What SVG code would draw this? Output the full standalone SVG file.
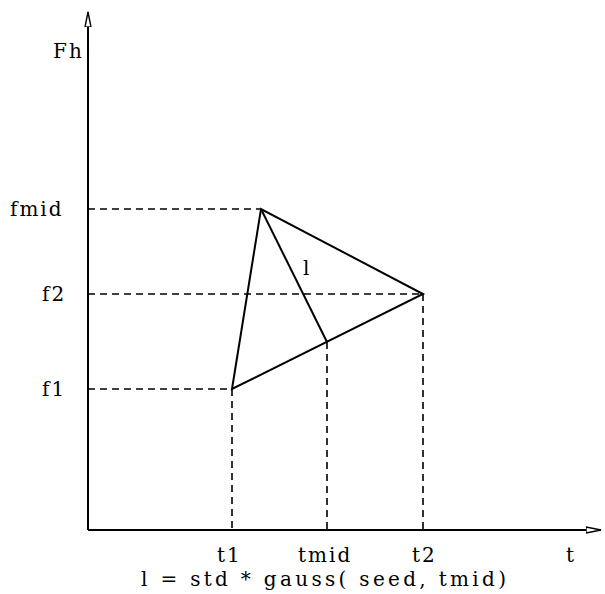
<svg xmlns="http://www.w3.org/2000/svg" width="605" height="594" viewBox="0 0 605 594">
<style>
.ax{stroke:#000;stroke-width:2;fill:none}
.ln{stroke:#000;stroke-width:2;fill:none}
.ds{stroke:#000;stroke-width:1.6;fill:none;stroke-dasharray:7,5}
text{font-family:"DejaVu Serif","Liberation Serif",serif;font-size:20px;letter-spacing:2px;font-variant-ligatures:none;fill:#000}
</style>
<defs>
<marker id="ah" markerWidth="16" markerHeight="8" refX="15" refY="4" orient="auto" markerUnits="userSpaceOnUse">
<path d="M0,1 L15,4 L0,7 Z" fill="#fff" stroke="#000" stroke-width="1.4"/>
</marker>
</defs>
<g id="connectors">
<line class="ax" x1="88" y1="530" x2="88" y2="12" marker-end="url(#ah)"/>
<line class="ax" x1="88" y1="530" x2="601" y2="530" marker-end="url(#ah)"/>
<line class="ds" x1="88" y1="209" x2="261" y2="209"/>
<line class="ds" x1="88" y1="294" x2="423" y2="294"/>
<line class="ds" x1="88" y1="389" x2="232" y2="389"/>
<line class="ds" x1="232" y1="389" x2="232" y2="530"/>
<line class="ds" x1="327" y1="342" x2="327" y2="530"/>
<line class="ds" x1="423" y1="294" x2="423" y2="530"/>
<polygon class="ln" points="232,389 261,209 423,294"/>
<line class="ln" x1="261" y1="209" x2="327" y2="342"/>
</g>
<g id="labels">
<text x="53" y="58">Fh</text>
<text x="10" y="216">fmid</text>
<text x="42" y="301">f2</text>
<text x="42" y="396">f1</text>
<text x="303" y="275">l</text>
<text x="217" y="562">t1</text>
<text x="298" y="562">tmid</text>
<text x="412" y="562">t2</text>
<text x="566" y="562">t</text>
<text x="141" y="586" textLength="367" lengthAdjust="spacing">l = std * gauss( seed, tmid)</text>
</g>
</svg>
